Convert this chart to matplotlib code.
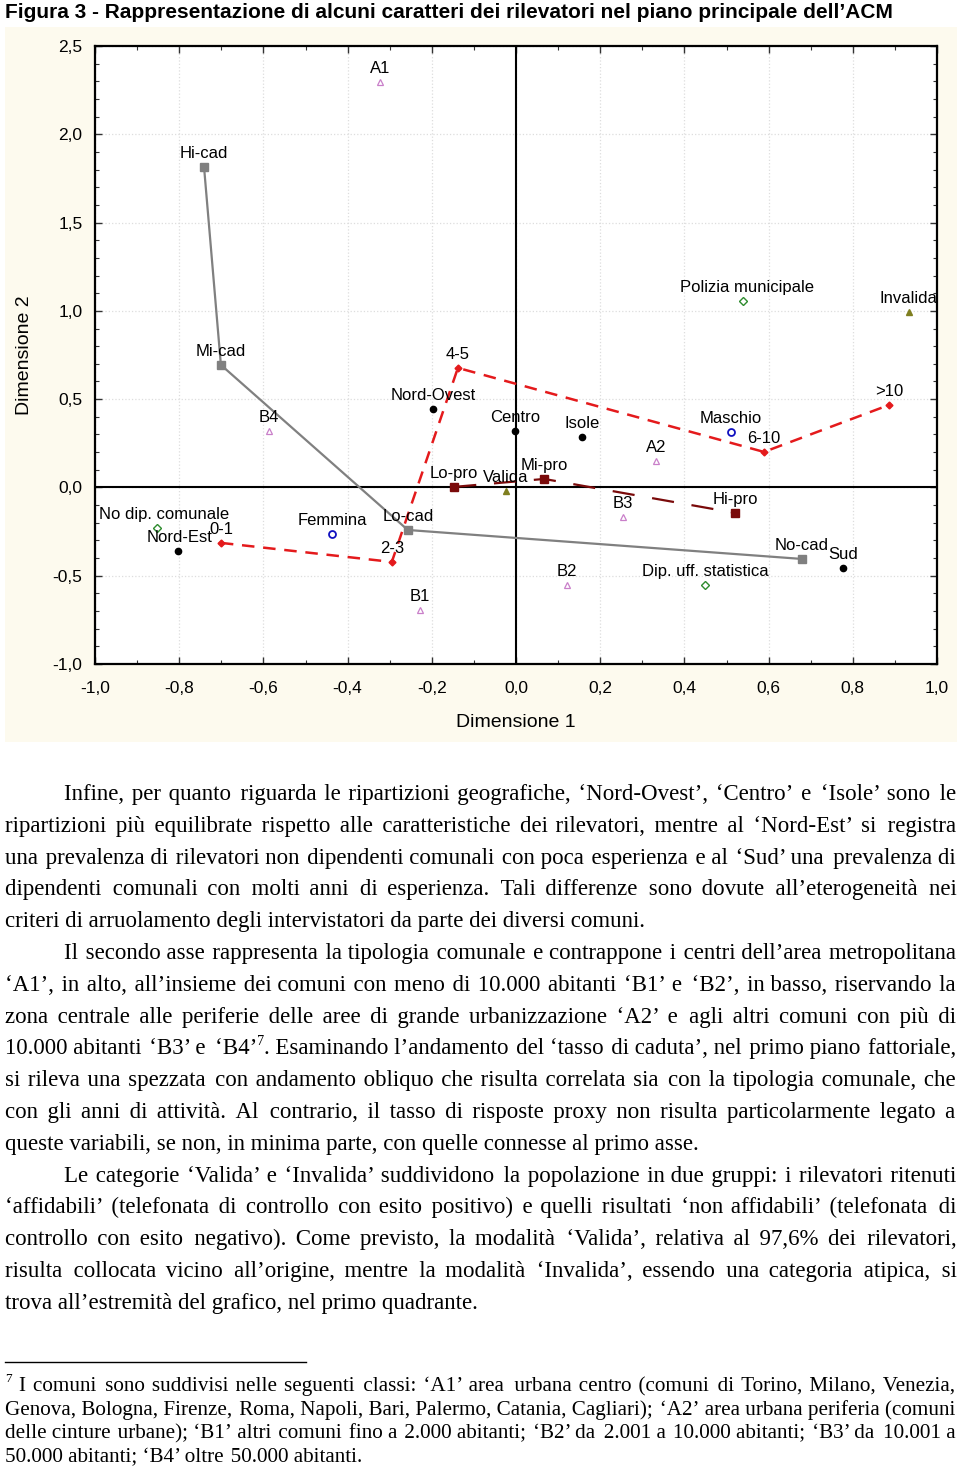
import matplotlib
matplotlib.use('Agg')
import matplotlib.pyplot as plt
from matplotlib.patches import Rectangle
from matplotlib.lines import Line2D
from matplotlib.ticker import MultipleLocator, FuncFormatter

plt.rcParams['font.family'] = ['Liberation Sans', 'DejaVu Sans']

# --- data (coordinates on the first two ACM dimensions) ---
cad_names = ['Hi-cad', 'Mi-cad', 'Lo-cad', 'No-cad']
cad_x = [-0.741, -0.701, -0.257, 0.679]
cad_y = [1.815, 0.694, -0.241, -0.405]

anni_names = ['0-1', '2-3', '4-5', '6-10', '>10']
anni_x = [-0.701, -0.295, -0.138, 0.589, 0.886]
anni_y = [-0.314, -0.422, 0.677, 0.201, 0.467]

pro_names = ['Lo-pro', 'Mi-pro', 'Hi-pro']
pro_x = [-0.147, 0.067, 0.520]
pro_y = [0.003, 0.048, -0.144]

rip_names = ['Nord-Ovest', 'Centro', 'Isole', 'Nord-Est', 'Sud']
rip_x = [-0.197, -0.002, 0.157, -0.803, 0.777]
rip_y = [0.444, 0.320, 0.286, -0.360, -0.456]

com_names = ['A1', 'A2', 'B1', 'B2', 'B3', 'B4']
com_x = [-0.323, 0.333, -0.228, 0.121, 0.254, -0.587]
com_y = [2.296, 0.150, -0.694, -0.552, -0.167, 0.320]

sesso_names = ['Maschio', 'Femmina']
sesso_x = [0.511, -0.437]
sesso_y = [0.314, -0.263]

tipo_names = ['Polizia municipale', 'No dip. comunale', 'Dip. uff. statistica']
tipo_x = [0.539, -0.853, 0.449]
tipo_y = [1.056, -0.229, -0.552]

esito_names = ['Valida', 'Invalida']
esito_x = [-0.024, 0.933]
esito_y = [-0.020, 0.994]

title = 'Figura 3 - Rappresentazione di alcuni caratteri dei rilevatori nel piano principale dell\u2019ACM'

# '^7' marks the footnote call (drawn as superscript)
body = [
    ['Infine, per quanto riguarda le ripartizioni geografiche, \u2018Nord-Ovest\u2019, \u2018Centro\u2019 e \u2018Isole\u2019 sono le',
     'ripartizioni più equilibrate rispetto alle caratteristiche dei rilevatori, mentre al \u2018Nord-Est\u2019 si registra',
     'una prevalenza di rilevatori non dipendenti comunali con poca esperienza e al \u2018Sud\u2019 una prevalenza di',
     'dipendenti comunali con molti anni di esperienza. Tali differenze sono dovute all\u2019eterogeneità nei',
     'criteri di arruolamento degli intervistatori da parte dei diversi comuni.'],
    ['Il secondo asse rappresenta la tipologia comunale e contrappone i centri dell\u2019area metropolitana',
     '\u2018A1\u2019, in alto, all\u2019insieme dei comuni con meno di 10.000 abitanti \u2018B1\u2019 e \u2018B2\u2019, in basso, riservando la',
     'zona centrale alle periferie delle aree di grande urbanizzazione \u2018A2\u2019 e agli altri comuni con più di',
     '10.000 abitanti \u2018B3\u2019 e \u2018B4\u2019^7. Esaminando l\u2019andamento del \u2018tasso di caduta\u2019, nel primo piano fattoriale,',
     'si rileva una spezzata con andamento obliquo che risulta correlata sia con la tipologia comunale, che',
     'con gli anni di attività. Al contrario, il tasso di risposte proxy non risulta particolarmente legato a',
     'queste variabili, se non, in minima parte, con quelle connesse al primo asse.'],
    ['Le categorie \u2018Valida\u2019 e \u2018Invalida\u2019 suddividono la popolazione in due gruppi: i rilevatori ritenuti',
     '\u2018affidabili\u2019 (telefonata di controllo con esito positivo) e quelli risultati \u2018non affidabili\u2019 (telefonata di',
     'controllo con esito negativo). Come previsto, la modalità \u2018Valida\u2019, relativa al 97,6% dei rilevatori,',
     'risulta collocata vicino all\u2019origine, mentre la modalità \u2018Invalida\u2019, essendo una categoria atipica, si',
     'trova all\u2019estremità del grafico, nel primo quadrante.'],
]

footnote = [
    '^7 I comuni sono suddivisi nelle seguenti classi: \u2018A1\u2019 area urbana centro (comuni di Torino, Milano, Venezia,',
    'Genova, Bologna, Firenze, Roma, Napoli, Bari, Palermo, Catania, Cagliari); \u2018A2\u2019 area urbana periferia (comuni',
    'delle cinture urbane); \u2018B1\u2019 altri comuni fino a 2.000 abitanti; \u2018B2\u2019 da 2.001 a 10.000 abitanti; \u2018B3\u2019 da 10.001 a',
    '50.000 abitanti; \u2018B4\u2019 oltre 50.000 abitanti.',
]

W, H = 960, 1471
fig = plt.figure(figsize=(W / 100, H / 100), dpi=100)
renderer = fig.canvas.get_renderer()
SERIF = ['Liberation Serif', 'DejaVu Serif', 'DejaVu Sans']
HAIR = '\u200a'


def fx(px):
    return px / W


def fy(py):
    return 1 - py / H


def text_width(s, **kw):
    if s == '':
        return 0.0
    t = fig.text(0, 0, s, **kw)
    w = t.get_window_extent(renderer).width
    t.remove()
    return w


def justify_line(line, x0, x1, y, fs, last=False):
    kw = dict(family=SERIF, fontsize=fs)
    sup_kw = dict(family=SERIF, fontsize=fs * 0.62)
    rise = fs * 0.42 * 100 / 72
    space = (text_width('x' + ' ' * 10 + 'x', **kw) - text_width('xx', **kw)) / 10
    hair = (text_width('x' + HAIR * 20 + 'x', **kw) - text_width('xx', **kw)) / 20
    words = line.split(' ')

    def parts(w):
        if '^' in w:
            pre, rest = w.split('^', 1)
            return pre, rest[0], rest[1:]
        return w, '', ''

    widths = []
    for w in words:
        pre, sup, post = parts(w)
        widths.append(text_width(pre, **kw) + text_width(sup, **sup_kw) + text_width(post, **kw))
    if last or len(words) == 1:
        gap = space
    else:
        gap = (x1 - x0 - sum(widths)) / (len(words) - 1)

    seg, xs = '', x0
    target = x0
    for j, w in enumerate(words):
        if j > 0:
            need = target - (xs + text_width(seg, **kw))
            if seg == '':
                xs += need
            elif need >= space:
                seg += ' ' + HAIR * int(round((need - space) / hair))
            else:
                seg += HAIR * max(1, int(round(need / hair)))
        pre, sup, post = parts(w)
        seg += pre
        if sup:
            xsup = xs + text_width(seg, **kw)
            if seg:
                fig.text(fx(xs), fy(y), seg, ha='left', va='baseline', **kw)
            fig.text(fx(xsup), fy(y - rise), sup, ha='left', va='baseline', **sup_kw)
            seg, xs = post, xsup + text_width(sup, **sup_kw)
        target += widths[j] + gap
    if seg:
        fig.text(fx(xs), fy(y), seg, ha='left', va='baseline', **kw)


# cream panel behind the chart
fig.patches.append(Rectangle((fx(5), fy(742)), fx(957) - fx(5), fy(27) - fy(742),
                             transform=fig.transFigure, facecolor='#fdfaee',
                             edgecolor='none', zorder=-1))

t = fig.text(fx(5), fy(12), title, fontsize=14, fontweight='bold', va='center', ha='left')
tw = t.get_window_extent(renderer).width
t.set_fontsize(14 * 888 / tw)

ax = fig.add_axes([fx(95), fy(664), fx(937) - fx(95), fy(46) - fy(664)])
ax.set_facecolor('white')
ax.set_xlim(-1, 1)
ax.set_ylim(-1, 2.5)
ax.xaxis.set_major_locator(MultipleLocator(0.2))
ax.xaxis.set_minor_locator(MultipleLocator(0.1))
ax.yaxis.set_major_locator(MultipleLocator(0.5))
ax.yaxis.set_minor_locator(MultipleLocator(0.1))
comma = FuncFormatter(lambda v, p: ('%.1f' % v).replace('.', ',').replace('-0,0', '0,0'))
ax.xaxis.set_major_formatter(comma)
ax.yaxis.set_major_formatter(comma)
ax.tick_params(which='both', direction='in', top=True, right=True, labelsize=12.5, color='#333333')
ax.tick_params(which='major', length=5, width=1)
ax.tick_params(which='minor', length=3, width=0.8)
ax.tick_params(axis='x', pad=12)
ax.tick_params(axis='y', pad=9)
ax.grid(True, which='major', color='#dddddd', linestyle=':', linewidth=0.9)
ax.set_axisbelow(True)
for sp in ax.spines.values():
    sp.set_linewidth(1.6)
ax.axhline(0, color='black', lw=1.5, zorder=1)
ax.axvline(0, color='black', lw=1.5, zorder=1)

ax.plot(cad_x, cad_y, color='#808080', lw=1.6, marker='s', ms=5.5, zorder=3)
ax.plot(anni_x, anni_y, color='#e41a1c', lw=1.8, dashes=(5, 3.5), marker='D', ms=3.5, zorder=3)
ax.plot(pro_x, pro_y, color='#7a0a0a', lw=1.6, dashes=(10, 8), marker='s', ms=5.5, zorder=3)
ax.plot(rip_x, rip_y, 'o', color='black', ms=4.5, ls='none', zorder=4)
ax.plot(com_x, com_y, '^', mfc='none', mec='#c97fc9', mew=0.9, ms=4.5, ls='none', zorder=4)
ax.plot(sesso_x, sesso_y, 'o', mfc='none', mec='#1010c0', mew=1.3, ms=5, ls='none', zorder=4)
ax.plot(tipo_x, tipo_y, 'D', mfc='none', mec='#2e8b2e', mew=1, ms=4, ls='none', zorder=4)
ax.plot(esito_x, esito_y, '^', color='#7f7f20', ms=4.5, ls='none', zorder=4)

all_names = cad_names + anni_names + pro_names + rip_names + com_names + sesso_names + tipo_names + esito_names
all_x = cad_x + anni_x + pro_x + rip_x + com_x + sesso_x + tipo_x + esito_x
all_y = cad_y + anni_y + pro_y + rip_y + com_y + sesso_y + tipo_y + esito_y
shift = {'No dip. comunale': 5, 'Polizia municipale': 3, 'Nord-Est': 1.5}
for n, x, y in zip(all_names, all_x, all_y):
    ax.annotate(n, (x, y), xytext=(shift.get(n, 0), 9.5), textcoords='offset points', ha='center',
                va='center', fontsize=12, clip_on=True, zorder=5)

fig.text(fx(516), fy(722), 'Dimensione 1', ha='center', va='center', fontsize=14)
fig.text(fx(25), fy(355), 'Dimensione 2', ha='center', va='center', fontsize=14, rotation=90)

# body text, justified
y = 800
for para in body:
    for i, line in enumerate(para):
        x0 = 64 if i == 0 else 5
        justify_line(line, x0, 956, y, 16.5, last=(i == len(para) - 1))
        y += 31.8

fig.add_artist(Line2D([fx(5), fx(306)], [fy(1362), fy(1362)], color='black', lw=1))
y = 1391
for i, line in enumerate(footnote):
    justify_line(line, 5, 956, y, 15.2, last=(i == len(footnote) - 1))
    y += 23.7

fig.savefig('out.png', dpi=100)
